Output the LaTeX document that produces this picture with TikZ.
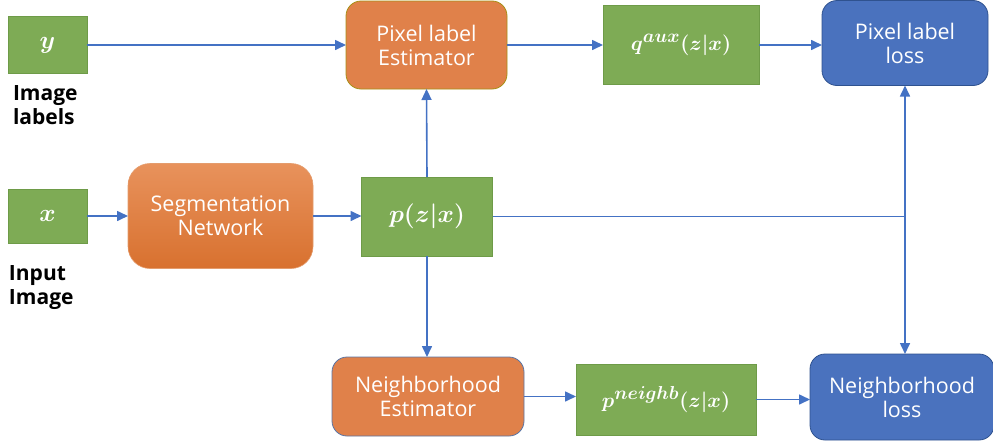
\documentclass[tikz,border=0pt]{standalone}
\usepackage{fontspec}
\usepackage{amsmath,bm,graphicx}
\setmainfont{Open Sans}
\usetikzlibrary{arrows.meta}
\definecolor{boxgreen}{HTML}{7EAB55}
\definecolor{greenedge}{HTML}{6E9B48}
\definecolor{boxorange}{HTML}{E0814A}
\definecolor{orangetop}{HTML}{E8925C}
\definecolor{orangebot}{HTML}{D8712F}
\definecolor{boxblue}{HTML}{4A72BE}
\definecolor{blueedge}{HTML}{2F528F}
\definecolor{linkblue}{HTML}{4472C4}
\newcommand{\bigsup}[1]{\scalebox{1.3}{$\scriptstyle\bm{#1}$}}
\tikzset{
  every node/.style={inner sep=0pt, outer sep=0pt},
  txt/.style={font=\fontsize{21.5}{24}\selectfont, align=center},
  mathtxt/.style={font=\fontsize{#1}{24}\selectfont},
  varbox/.style={draw=greenedge, line width=0.8pt, fill=boxgreen, text=white},
  estbox/.style={draw=#1, line width=0.8pt, fill=boxorange, rounded corners=15pt, txt, text=white},
  lossbox/.style={draw=blueedge, line width=0.8pt, fill=boxblue, rounded corners=15pt, txt, text=white},
  caption/.style={font=\fontsize{21}{24}\selectfont\bfseries, align=left, anchor=north west},
  link/.style={draw=linkblue, line width=1.6pt, -{Triangle[length=11pt,width=10pt]}},
  plain/.style={draw=linkblue, line width=1.6pt}
}
\begin{document}
\begin{tikzpicture}[x=1pt, y=-1pt]
\useasboundingbox (0,0) rectangle (993,442);

% input variables and their captions
\node[varbox, mathtxt=24, minimum width=79pt, minimum height=57pt] (ybox) at (47.5,45) {$\bm{y}$};
\node[caption] (ylab) at (13,86) {Image\\labels};
\node[varbox, mathtxt=24, minimum width=79pt, minimum height=54pt] (xbox) at (47.5,216) {$\bm{x}$};
\node[caption] (xlab) at (9,266) {Input\\Image};

% network and estimators
\node[txt, text=white, rounded corners=22pt, draw=orangebot!70!white, line width=0.6pt,
      top color=orangetop, bottom color=orangebot,
      minimum width=185pt, minimum height=105pt] (seg) at (220.5,216) {Segmentation\\Network};
\node[estbox=olive!70!boxorange, minimum width=161pt, minimum height=88pt] (ple) at (426.5,45) {Pixel label\\Estimator};
\node[estbox=blueedge!80!white, minimum width=192pt, minimum height=79pt] (ne) at (428,396.5) {Neighborhood\\Estimator};

% distributions
\node[varbox, mathtxt=23, minimum width=131pt, minimum height=79pt] (pzx) at (427,216.5) {$\bm{p(z|x)}$};
\node[varbox, mathtxt=20, minimum width=156pt, minimum height=79pt] (qaux) at (681,45) {$\bm{q}^{\bigsup{aux}}\bm{(z|x)}$};
\node[varbox, mathtxt=22, minimum width=180pt, minimum height=71pt] (pn) at (666,399.5) {$\bm{p}^{\bigsup{neighb}}\bm{(z|x)}$};

% losses
\node[lossbox, minimum width=166pt, minimum height=85pt] (pll) at (905,43) {Pixel label\\loss};
\node[lossbox, minimum width=184pt, minimum height=86pt] (nl) at (902,397) {Neighborhood\\loss};

% connectors
\draw[link] (ybox.east) -- (ple.west);
\draw[link] (ple.east) -- (qaux.west);
\draw[link] (qaux.east) -- (qaux.east -| pll.west);
\draw[link] (xbox.east) -- (seg.west);
\draw[link] (seg.east) -- (seg.east -| pzx.west);
\draw[link] (pzx.north) -- (ple.south);
\draw[link] (pzx.south) -- (pzx.south |- ne.north);
\coordinate (split) at (pzx.east -| pll.south);
\draw[plain] (pzx.east) -- (split);
\draw[link] (split) -- (pll.south);
\draw[link] (split) -- (split |- nl.north);
\draw[link] (ne.east) -- (ne.east -| pn.west);
\draw[link] (pn.east) -- (pn.east -| nl.west);
\end{tikzpicture}
\end{document}
